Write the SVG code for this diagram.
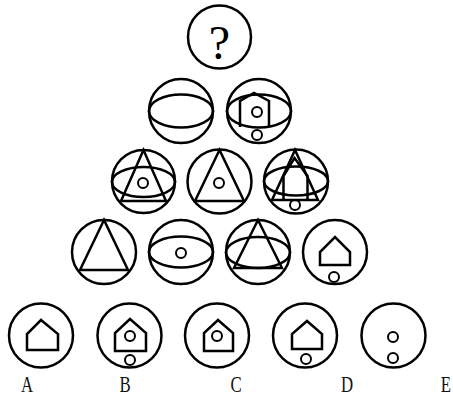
<svg xmlns="http://www.w3.org/2000/svg" width="453" height="398" viewBox="0 0 453 398">
<style>
.s{fill:none;stroke:#000;stroke-width:2.5;stroke-linejoin:miter}
.t{fill:none;stroke:#000;stroke-width:2}
.lbl{font-family:"Liberation Serif",serif;font-size:24px;fill:#111}
</style>
<rect width="453" height="398" fill="#fff"/>
<g id="top">
<circle class="s" cx="219.5" cy="37" r="31.5"/>
<text x="219.5" y="59" text-anchor="middle" font-family="Liberation Serif, serif" font-size="48" fill="#000">?</text>
</g>
<g id="r2a">
<circle class="s" cx="181" cy="111" r="32"/>
<ellipse class="s" cx="181" cy="111" rx="32" ry="16.5"/>
</g>
<g id="r2b">
<circle class="s" cx="259" cy="111" r="32"/>
<ellipse class="s" cx="259" cy="111" rx="32" ry="16.5"/>
<path class="s" d="M240,127 V101 L254,93 L269,101 V127"/>
<circle class="t" cx="257" cy="112" r="5"/>
<circle class="t" cx="257" cy="135" r="5"/>
</g>
<g id="r3a">
<circle class="s" cx="143.5" cy="181.5" r="31.5"/>
<ellipse class="s" cx="143.5" cy="182" rx="31.5" ry="15"/>
<path class="s" d="M143.5,150 L121,201 H166 Z"/>
<circle class="t" cx="143" cy="183" r="5"/>
</g>
<g id="r3b">
<circle class="s" cx="219.5" cy="181.5" r="32"/>
<path class="s" d="M219.5,150 L195,201 H244 Z"/>
<circle class="t" cx="219" cy="183" r="5"/>
</g>
<g id="r3c">
<circle class="s" cx="296" cy="181.5" r="32"/>
<ellipse class="s" cx="296" cy="181" rx="32" ry="14.5"/>
<path class="s" d="M295,150 L272,200 H318 Z"/>
<path class="s" d="M283.5,200 V176 L294.5,158 L307.5,176 V200"/>
<circle class="t" cx="295" cy="205" r="5"/>
</g>
<g id="r4a">
<circle class="s" cx="104" cy="252" r="32"/>
<path class="s" d="M104,220 L80,270 H128 Z"/>
</g>
<g id="r4b">
<circle class="s" cx="181" cy="252" r="32"/>
<ellipse class="s" cx="181" cy="252" rx="32" ry="15.5"/>
<circle class="t" cx="181" cy="253" r="5"/>
</g>
<g id="r4c">
<circle class="s" cx="258" cy="252" r="32"/>
<ellipse class="s" cx="258" cy="252.5" rx="32" ry="15.5"/>
<path class="s" d="M258,220 L234,268 H282 Z"/>
</g>
<g id="r4d">
<circle class="s" cx="335" cy="252" r="32"/>
<path class="s" d="M320,265 V252 L335,237 L350,252 V265 Z"/>
<circle class="t" cx="334" cy="277" r="5"/>
</g>
<g id="optA">
<circle class="s" cx="41" cy="335.5" r="32"/>
<path class="s" d="M27,350 V334 L41,320 L58,334 V350 Z"/>
</g>
<g id="optB">
<circle class="s" cx="129.5" cy="335.5" r="32"/>
<path class="s" d="M115,351 V333 L130,319 L146,333 V351 Z"/>
<circle class="t" cx="130" cy="336" r="5"/>
<circle class="t" cx="130" cy="360" r="5"/>
</g>
<g id="optC">
<circle class="s" cx="217" cy="335.5" r="32"/>
<path class="s" d="M204,351 V333 L218,320 L233,333 V351 Z"/>
<circle class="t" cx="217" cy="336" r="5"/>
</g>
<g id="optD">
<circle class="s" cx="305" cy="335.5" r="32"/>
<path class="s" d="M292,349 V334 L307,321 L322,334 V349 Z"/>
<circle class="t" cx="306" cy="359" r="5"/>
</g>
<g id="optE">
<circle class="s" cx="393.5" cy="335.5" r="32"/>
<circle class="t" cx="393" cy="337" r="5"/>
<circle class="t" cx="393" cy="358" r="5"/>
</g>
<g id="labels">
<text class="lbl" text-anchor="middle" transform="translate(27,392) scale(0.7,1)">A</text>
<text class="lbl" text-anchor="middle" transform="translate(125,392) scale(0.7,1)">B</text>
<text class="lbl" text-anchor="middle" transform="translate(236,392) scale(0.7,1)">C</text>
<text class="lbl" text-anchor="middle" transform="translate(347,392) scale(0.7,1)">D</text>
<text class="lbl" text-anchor="middle" transform="translate(446,392) scale(0.7,1)">E</text>
</g>
</svg>
